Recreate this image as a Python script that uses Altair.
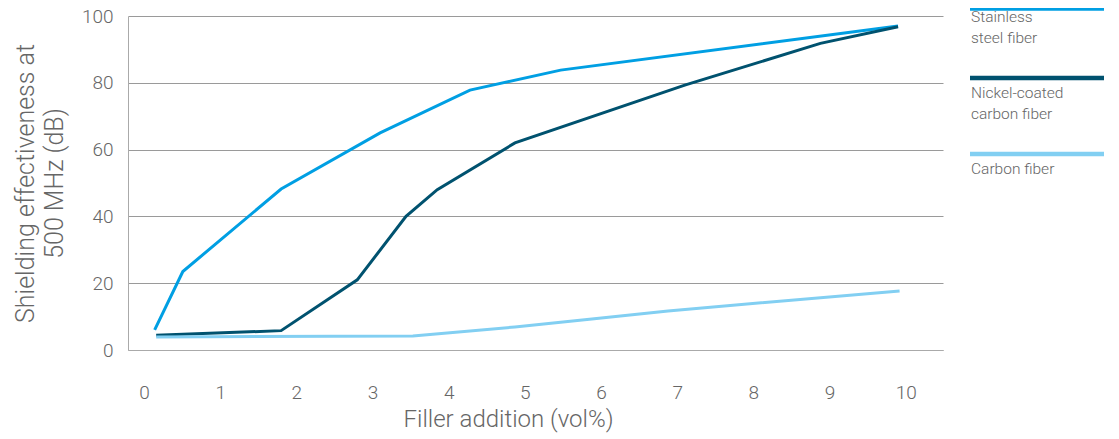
import altair as alt
import pandas as pd

# Series names, legend labels and colours
series_names = ["Stainless steel fiber", "Nickel-coated carbon fiber", "Carbon fiber"]
legend_labels = ["Stainless\nsteel fiber", "Nickel-coated\ncarbon fiber", "Carbon fiber"]
colors = ["#009fe3", "#00526f", "#82cff2"]

# Data (x: vol%, y: dB)
ss_x = [0.14, 0.51, 1.8, 3.1, 4.28, 5.47, 9.9]
ss_y = [6.0, 23.5, 48.2, 65.0, 77.8, 83.8, 97.0]

ni_x = [0.16, 1.8, 2.8, 3.44, 3.85, 4.87, 7.1, 8.88, 9.9]
ni_y = [4.4, 5.8, 21.0, 40.0, 48.0, 62.0, 79.3, 91.8, 96.8]

cf_x = [0.16, 3.53, 4.87, 5.88, 6.88, 9.92]
cf_y = [3.9, 4.2, 6.9, 9.3, 11.7, 17.7]

x_ticks = list(range(0, 11))
y_ticks = [0, 20, 40, 60, 80, 100]

rows = []
for name, xs, ys in zip(series_names, [ss_x, ni_x, cf_x], [ss_y, ni_y, cf_y]):
    for xv, yv in zip(xs, ys):
        rows.append({"series": name, "x": xv, "y": yv})
df = pd.DataFrame(rows)

leg = pd.DataFrame({"series": series_names, "label": legend_labels, "i": list(range(len(series_names)))})

TEXT = "#666666"
FONT = "Roboto"

color_scale = alt.Scale(domain=series_names, range=colors)

lines = alt.Chart(df).mark_line(strokeWidth=3).encode(
    x=alt.X("x:Q",
            scale=alt.Scale(domain=[-0.21, 10.49], nice=False, zero=False),
            axis=alt.Axis(values=x_ticks, title="Filler addition (vol%)", grid=False, ticks=False,
                          labelPadding=33, labelFontSize=19, titleFontSize=24,
                          titlePadding=5, titleX=380, format="d")),
    y=alt.Y("y:Q",
            scale=alt.Scale(domain=[0, 100], nice=False),
            axis=alt.Axis(values=y_ticks, title=["Shielding effectiveness at", "500 MHz (dB)"],
                          grid=True, ticks=False, labelPadding=15, labelFontSize=19,
                          titleFontSize=25, titleLineHeight=29, titlePadding=14)),
    color=alt.Color("series:N", scale=color_scale, legend=None),
    detail="series:N",
)

leg_bars = alt.Chart(leg).transform_calculate(
    by="max(datum.i * 76 - 14, -7.5)"
).mark_rule(strokeWidth=4.5).encode(
    x=alt.value(842),
    x2=alt.value(976),
    y=alt.Y("by:Q", scale=None, axis=None),
    color=alt.Color("series:N", scale=color_scale, legend=None),
)

leg_text = alt.Chart(leg).transform_calculate(
    ty="datum.i * 76 + 6"
).mark_text(align="left", baseline="alphabetic", lineBreak="\n", fontSize=15.5,
            lineHeight=21, color=TEXT, font=FONT, fontWeight=300).encode(
    x=alt.value(843),
    y=alt.Y("ty:Q", scale=None, axis=None),
    text="label:N",
)

chart = alt.layer(lines, leg_bars, leg_text).resolve_scale(y="independent").properties(
    width=815, height=334,
    autosize=alt.AutoSizeParams(type="none"),
    padding={"left": 120, "top": 8, "right": 168, "bottom": 83},
).configure_view(stroke=None).configure_axis(
    labelColor=TEXT, titleColor=TEXT, labelFont=FONT, titleFont=FONT,
    labelFontWeight=300, titleFontWeight=300,
    domainColor="#aaaaaa", gridColor="#9a9a9a", gridWidth=1,
)

chart.save("out.html", embed_options={"renderer": "svg", "actions": False})
